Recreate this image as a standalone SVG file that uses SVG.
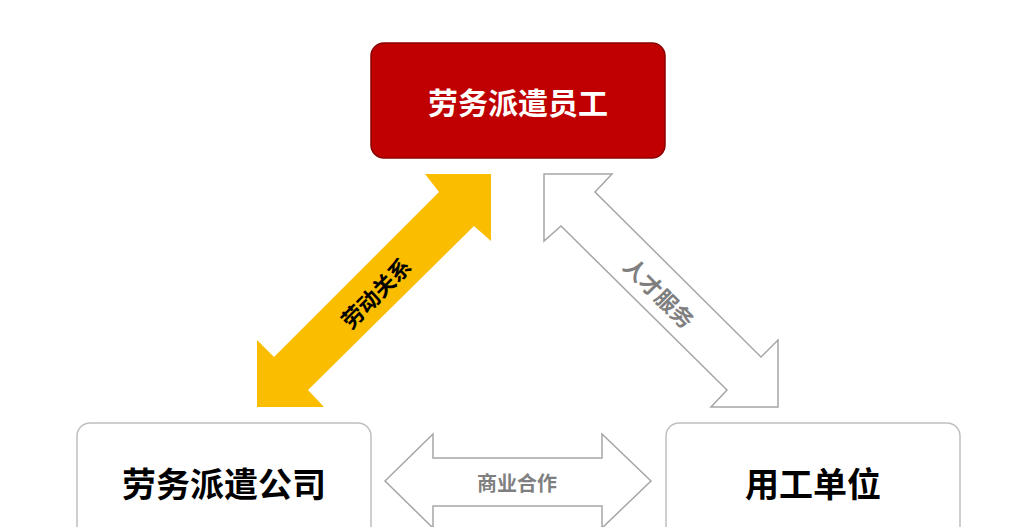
<svg xmlns="http://www.w3.org/2000/svg" width="1024" height="527" viewBox="0 0 1024 527">
<style>
text{font-family:"Noto Sans CJK SC","Noto Sans",sans-serif;font-weight:bold;text-anchor:middle;dominant-baseline:central}
.box{fill:#fff;stroke:#bfbfbf;stroke-width:1.5}
.garrow{fill:#fff;stroke:#a6a6a6;stroke-width:1.5}
</style>
<rect width="1024" height="527" fill="#fff"/>
<g id="connectors">
<polygon points="425,174 491,174 491,241 474,226 308,390 324,407 257,407 257,340 274,357 439,192" fill="#fbbd00"/>
<text x="375" y="292" font-size="22" fill="#000" transform="rotate(-45 375 292)">劳动关系</text>
<polygon class="garrow" points="544,174 612,174 595,192 761,357 778,340 778,407 711,407 727,390 561,226 544,241"/>
<text x="660" y="292" font-size="22" fill="#7f7f7f" transform="rotate(45 660 292)">人才服务</text>
<polygon class="garrow" points="385,481 433,434 433,458 602,458 602,434 651,481 602,528 602,506 433,506 433,528"/>
<text x="517" y="482" font-size="20" fill="#7f7f7f">商业合作</text>
</g>
<g id="worker">
<rect x="371" y="43" width="294" height="115" rx="13" fill="#c00000" stroke="#8b0000" stroke-width="1.5"/>
<text x="518" y="101" font-size="30" fill="#fff">劳务派遣员工</text>
</g>
<g id="agency">
<rect class="box" x="77" y="423" width="294" height="130" rx="13"/>
<text x="224" y="482" font-size="34" fill="#000">劳务派遣公司</text>
</g>
<g id="employer">
<rect class="box" x="666" y="423" width="294" height="130" rx="13"/>
<text x="813" y="482" font-size="34" fill="#000">用工单位</text>
</g>
</svg>
